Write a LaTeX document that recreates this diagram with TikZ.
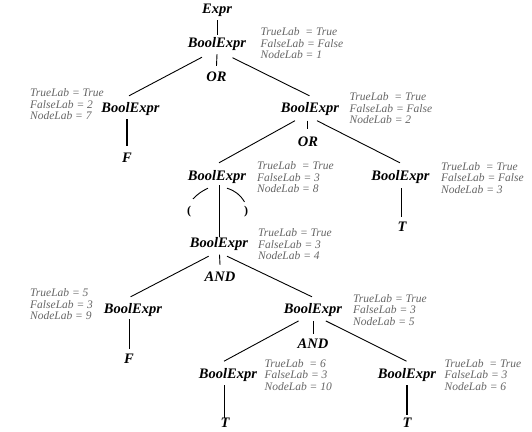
\documentclass[tikz,border=0pt]{standalone}
\usepackage{fontspec}
\setmainfont{Liberation Serif}
\begin{document}
\begin{tikzpicture}[x=1pt,y=-1pt,
  nt/.style={inner sep=0pt,font=\fontsize{14.5}{16}\selectfont\bfseries\itshape,text height=10pt,text depth=3pt},
  par/.style={inner sep=0pt,font=\fontsize{12}{14}\selectfont\bfseries},
  lab/.style={inner sep=0pt,anchor=west,align=left,text=black!60,font=\fontsize{11.5}{11.5}\selectfont\itshape},
  edge/.style={line width=0.9pt},
  thick edge/.style={line width=1.5pt}]
\path[fill=white,use as bounding box] (0,0) rectangle (532,431);

% nonterminal / terminal nodes
\node[nt] (expr) at (217,10) {Expr};
\node[nt] (root) at (217,43.5) {BoolExpr};
\node[nt] (or1) at (216.5,78) {OR};
\node[nt] (b7) at (130.5,109) {BoolExpr};
\node[nt] (f7) at (127,159) {F};
\node[nt] (b2) at (310,109) {BoolExpr};
\node[nt] (or2) at (308,143) {OR};
\node[nt] (b8) at (217,176.5) {BoolExpr};
\node[nt] (b3) at (400.5,177) {BoolExpr};
\node[nt] (t3) at (402,228) {T};
\node[par] (lp) at (189,212) {(};
\node[par] (rp) at (246,212) {)};
\node[nt] (b4) at (219,243.5) {BoolExpr};
\node[nt] (and1) at (220,278) {AND};
\node[nt] (b9) at (133,309.5) {BoolExpr};
\node[nt] (f9) at (129,360) {F};
\node[nt] (b5) at (313,309.5) {BoolExpr};
\node[nt] (and2) at (313,344.5) {AND};
\node[nt] (b10) at (228,374.5) {BoolExpr};
\node[nt] (t10) at (225,424) {T};
\node[nt] (b6) at (407,374.5) {BoolExpr};
\node[nt] (t6) at (407,424) {T};

% attribute labels
\node[lab] (l1) at (260.5,43.5) {TrueLab \ = True\\FalseLab = False\\NodeLab = 1};
\node[lab] (l7) at (30,104.5) {TrueLab = True\\FalseLab = 2\\NodeLab = 7};
\node[lab] (l2) at (349.5,108.5) {TrueLab \ = True\\FalseLab = False\\NodeLab = 2};
\node[lab] (l8) at (257,177.5) {TrueLab \ = True\\FalseLab = 3\\NodeLab = 8};
\node[lab] (l3) at (441,178) {TrueLab \ = True\\FalseLab = False\\NodeLab = 3};
\node[lab] (l4) at (258,244.5) {TrueLab = True\\FalseLab = 3\\NodeLab = 4};
\node[lab] (l9) at (30,304.5) {TrueLab = 5\\FalseLab = 3\\NodeLab = 9};
\node[lab] (l5) at (353,310) {TrueLab = True\\FalseLab = 3\\NodeLab = 5};
\node[lab] (l10) at (264.5,375) {TrueLab \ = 6\\FalseLab = 3\\NodeLab = 10};
\node[lab] (l6) at (444.5,375) {TrueLab \ = True\\FalseLab = 3\\NodeLab = 6};

% connectors
\draw[edge] ([shift={(0,3.5)}]expr.south) -- ([shift={(0,-1.5)}]root.north);
\draw[edge] ([shift={(0,4)}]root.south) -- ([shift={(0,-5.5)}]or1.north);
\draw[edge] ([shift={(-15,7)}]root.south) -- ([shift={(-1.5,-6.5)}]b7.north);
\draw[edge] ([shift={(15.5,7.5)}]root.south) -- ([shift={(-0.5,-6.5)}]b2.north);
\draw[thick edge] ([shift={(-3.5,3.5)}]b7.south) -- ([shift={(0,-6.5)}]f7.north);
\draw[edge] ([shift={(-15,5)}]b2.south) -- ([shift={(2,-7)}]b8.north);
\draw[edge] ([shift={(-3,5)}]b2.south) -- ([shift={(-1,-7.5)}]or2.north);
\draw[edge] ([shift={(7,5)}]b2.south) -- ([shift={(-0.5,-7.5)}]b3.north);
\draw[thick edge] ([shift={(1,4.5)}]b3.south) -- ([shift={(-0.5,-4.5)}]t3.north);
\draw[edge] ([shift={(-9,5)}]b8.south) to[bend right=10] ([shift={(4,-7.5)}]lp.north);
\draw[edge] ([shift={(10,5)}]b8.south) to[bend left=20] ([shift={(-1.5,-4.5)}]rp.north);
\draw[edge] ([shift={(2,2)}]b8.south) -- ([shift={(0,0.5)}]b4.north);
\draw[edge] ([shift={(0.5,4.5)}]b4.south) -- ([shift={(0,-6.5)}]and1.north);
\draw[edge] ([shift={(-10.3,6)}]b4.south) -- ([shift={(-2.4,-6)}]b9.north);
\draw[edge] ([shift={(8,6)}]b4.south) -- ([shift={(-1,-6)}]b5.north);
\draw[edge] ([shift={(-4,3)}]b9.south) -- ([shift={(0,-4)}]f9.north);
\draw[line width=0.5pt] ([shift={(0,4.7)}]b5.south) -- ([shift={(0,-4)}]and2.north);
\draw[edge] ([shift={(-14.4,4.7)}]b5.south) -- ([shift={(-4,-6.6)}]b10.north);
\draw[edge] ([shift={(12.8,4.7)}]b5.south) -- ([shift={(-0.5,-6.6)}]b6.north);
\draw[line width=0.6pt] ([shift={(-3.4,4)}]b10.south) -- ([shift={(-0.4,0.5)}]t10.north);
\draw[thick edge] ([shift={(0,4)}]b6.south) -- ([shift={(0,-2)}]t6.north);
\end{tikzpicture}
\end{document}
